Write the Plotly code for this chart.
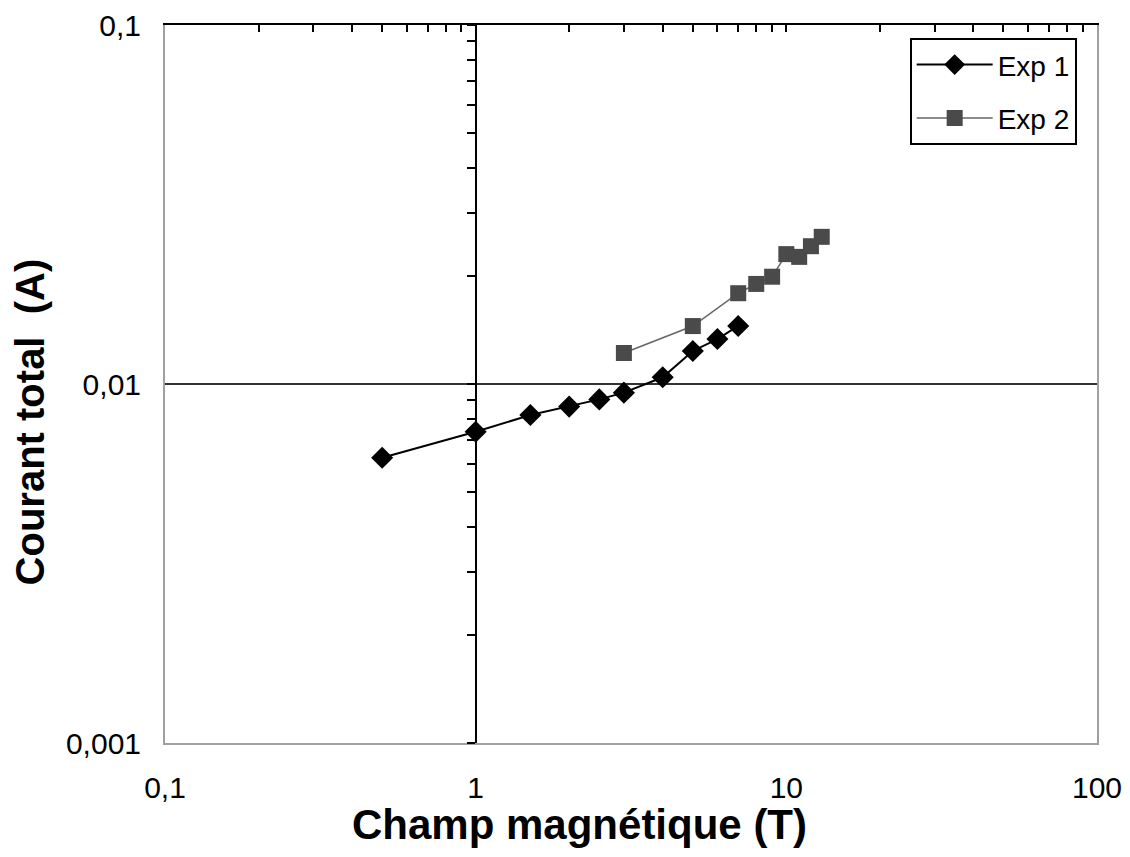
import plotly.graph_objects as go

# Data
exp1_x = [0.5, 1, 1.5, 2, 2.5, 3, 4, 5, 6, 7]
exp1_y = [0.00623, 0.00736, 0.0082, 0.00865, 0.00906, 0.00946, 0.01044, 0.01236, 0.01334, 0.01451]
exp2_x = [3, 5, 7, 8, 9, 10, 11, 12, 13]
exp2_y = [0.0122, 0.0145, 0.0179, 0.0190, 0.0199, 0.0230, 0.0226, 0.0242, 0.0257]

x_tickvals = [0.1, 1, 10, 100]
x_ticktext = ["0,1", "1", "10", "100"]
y_tickvals = [0.001, 0.01, 0.1]
y_ticktext = ["0,001", "0,01", "0,1"]

x_minor = [m * 10 ** e for e in (-1, 0, 1) for m in range(1, 10)] + [100]
y_minor = [m * 10 ** e for e in (-3, -2) for m in range(1, 10)] + [0.1]

FONT = "Liberation Sans, Arial, sans-serif"

fig = go.Figure()
fig.add_trace(go.Scatter(
    x=exp1_x, y=exp1_y, name="Exp 1", mode="lines+markers", legendgroup="g1",
    line=dict(color="black", width=2),
    marker=dict(symbol="diamond", size=17, color="black"),
))
fig.add_trace(go.Scatter(
    x=exp2_x, y=exp2_y, name="Exp 2", mode="lines+markers", legendgroup="g2",
    line=dict(color="#666666", width=1.5),
    marker=dict(symbol="square", size=16, color="#4a4a4a"),
))
# invisible traces to activate secondary axes
fig.add_trace(go.Scatter(x=exp1_x[:1], y=exp1_y[:1], xaxis="x2", yaxis="y", mode="markers",
                         marker=dict(opacity=0), showlegend=False, hoverinfo="skip"))
fig.add_trace(go.Scatter(x=exp1_x[:1], y=exp1_y[:1], xaxis="x", yaxis="y2", mode="markers",
                         marker=dict(opacity=0), showlegend=False, hoverinfo="skip"))

fig.update_layout(
    width=1130, height=857,
    margin=dict(l=157, r=41, t=17, b=122, autoexpand=False),
    plot_bgcolor="white", paper_bgcolor="white",
    font=dict(family=FONT, color="black"),
    showlegend=True,
    legend=dict(
        x=0.799, y=0.982, xanchor="left", yanchor="top",
        bgcolor="white", bordercolor="black", borderwidth=2,
        font=dict(size=28, family=FONT, color="black"),
        itemwidth=76, tracegroupgap=14,
    ),
    xaxis=dict(
        type="log", range=[-1, 2], automargin=False,
        tickvals=x_tickvals, ticktext=x_ticktext,
        tickfont=dict(size=30, family=FONT),
        showline=True, linecolor="#a0a0a0", linewidth=2,
        showgrid=False, zeroline=False, ticks="",
        ticklabelstandoff=17,
    ),
    xaxis2=dict(
        type="log", range=[-1, 2], overlaying="x", side="top", anchor="y", automargin=False,
        tickvals=x_minor, showticklabels=False,
        ticks="inside", ticklen=7, tickwidth=2, tickcolor="black",
        showline=True, linecolor="black", linewidth=2,
        showgrid=False, zeroline=False,
    ),
    yaxis=dict(
        type="log", range=[-3, -1], automargin=False,
        tickvals=y_tickvals, ticktext=y_ticktext,
        tickfont=dict(size=30, family=FONT),
        showline=True, linecolor="#a0a0a0", linewidth=2, mirror=True,
        showgrid=True, gridcolor="#333333", gridwidth=2,
        zeroline=False, ticks="",
        ticklabelstandoff=16,
    ),
    yaxis2=dict(
        type="log", range=[-3, -1], overlaying="y", anchor="free", position=1/3, side="left",
        automargin=False,
        tickvals=y_minor, showticklabels=False,
        ticks="outside", ticklen=8, tickwidth=2, tickcolor="black",
        showline=True, linecolor="black", linewidth=2,
        showgrid=False, zeroline=False,
    ),
    annotations=[
        dict(text="<b>Champ magnétique (T)</b>", xref="paper", yref="paper",
             x=0.445, y=-0.114, xanchor="center", yanchor="middle", showarrow=False,
             font=dict(size=42, family=FONT, color="black")),
        dict(text="<b>Courant total  (A)</b>", xref="paper", yref="paper",
             x=-0.1445, y=0.447, xanchor="center", yanchor="middle", showarrow=False,
             textangle=-90, font=dict(size=40, family=FONT, color="black")),
    ],
)

fig.write_html("out.html")
